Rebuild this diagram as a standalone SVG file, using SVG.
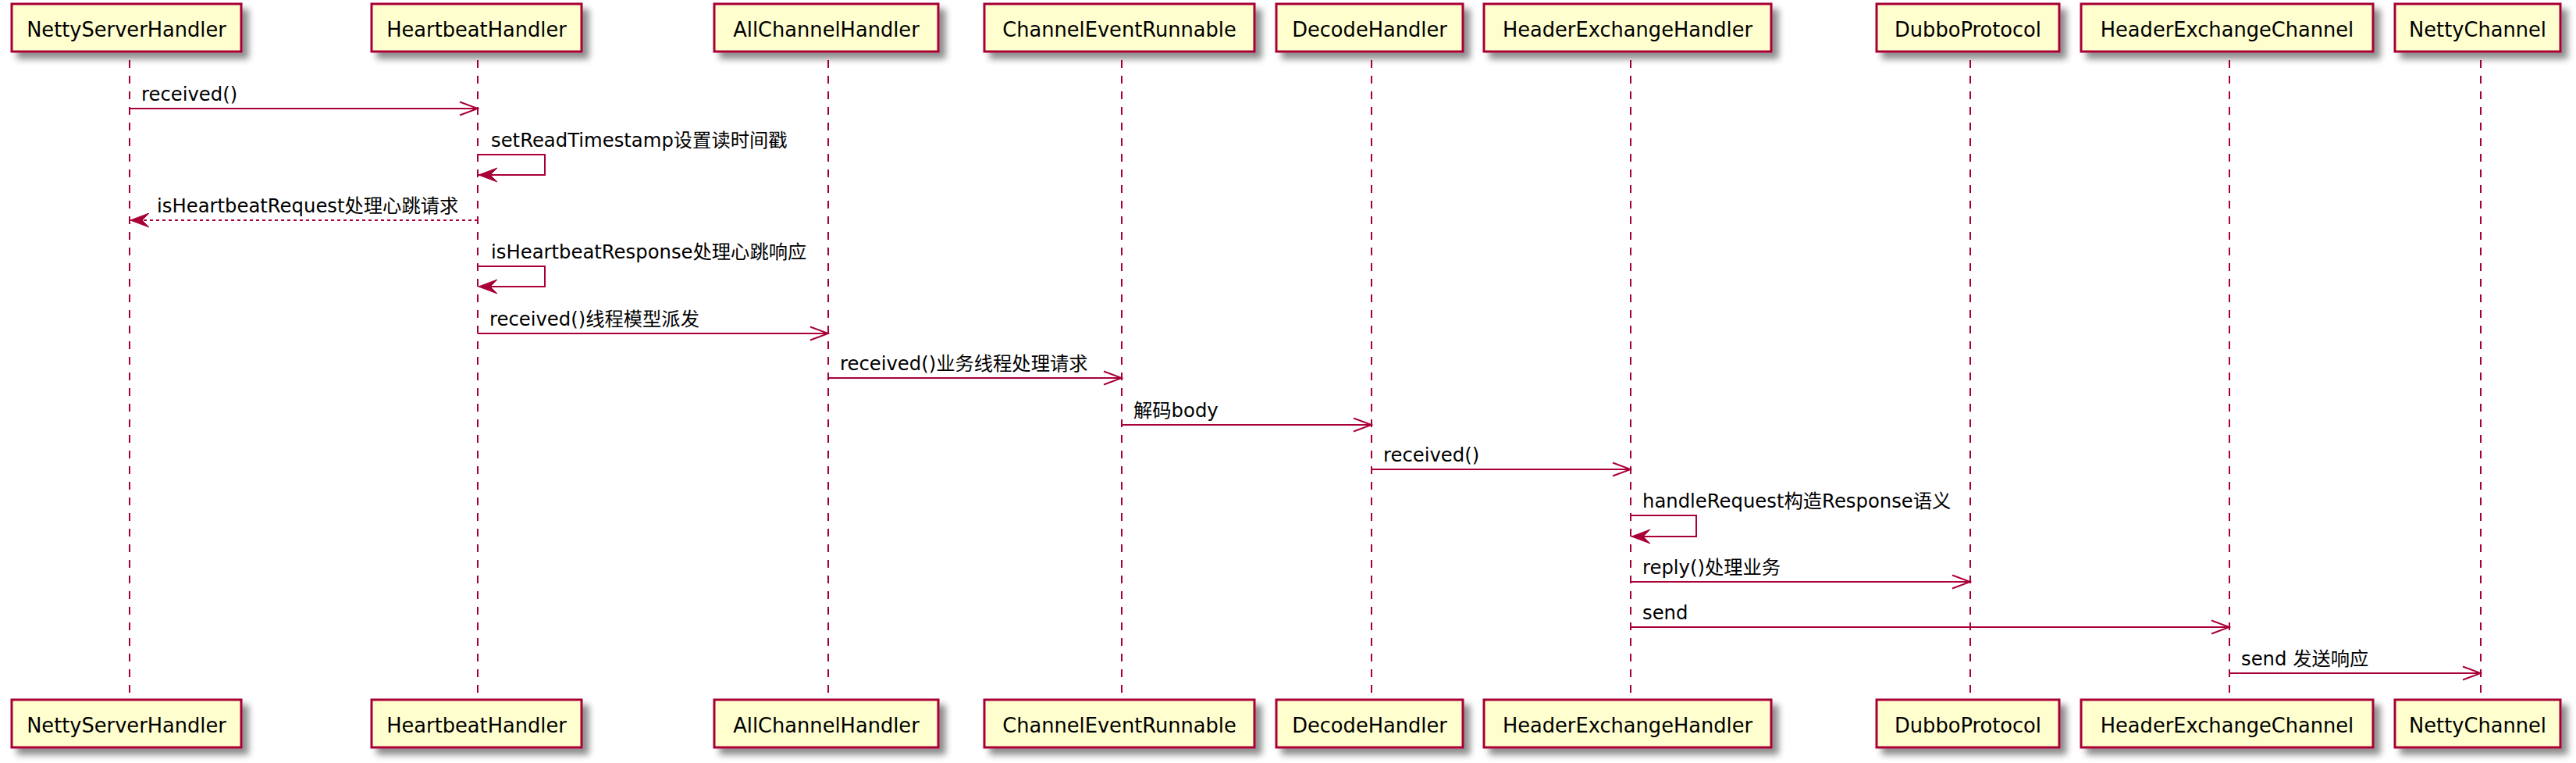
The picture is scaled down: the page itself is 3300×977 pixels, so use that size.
<svg xmlns="http://www.w3.org/2000/svg" width="3300" height="977" viewBox="0 0 3300 977">
<defs>
<filter id="sh" x="-10%" y="-20%" width="130%" height="160%">
<feGaussianBlur in="SourceAlpha" stdDeviation="4"/>
<feOffset dx="8" dy="8" result="b"/>
<feComponentTransfer><feFuncA type="linear" slope="0.45"/></feComponentTransfer>
<feMerge><feMergeNode/><feMergeNode in="SourceGraphic"/></feMerge>
</filter>
<marker id="open" viewBox="0 0 26 20" refX="24" refY="10" markerWidth="26" markerHeight="20" markerUnits="userSpaceOnUse" orient="auto">
<path d="M1,1.5 L24,10 L1,18.5" fill="none" stroke="#A80036" stroke-width="2"/>
</marker>
<marker id="fill" viewBox="0 0 26 20" refX="25" refY="10" markerWidth="26" markerHeight="20" markerUnits="userSpaceOnUse" orient="auto">
<path d="M1,1 L25,10 L1,19 L10,10 Z" fill="#A80036" stroke="#A80036" stroke-width="1"/>
</marker>
</defs>
<style>
.box{fill:#FEFECE;stroke:#A80036;stroke-width:3;filter:url(#sh)}
.pt{font-family:"DejaVu Sans","Noto Sans CJK SC",sans-serif;font-size:25.7px;fill:#000;text-anchor:middle}
.life{stroke:#A80036;stroke-width:2;stroke-dasharray:10,10;fill:none}
.msg{stroke:#A80036;stroke-width:2;fill:none}
.dot{stroke:#A80036;stroke-width:2;fill:none;stroke-dasharray:4,4}
.ml{font-family:"DejaVu Sans","Noto Sans CJK SC",sans-serif;font-size:24.3px;fill:#000}
</style>
<rect width="3300" height="977" fill="#fff"/>
<g id="lifelines">
<line class="life" x1="166" y1="77" x2="166" y2="890"/>
<line class="life" x1="612" y1="77" x2="612" y2="890"/>
<line class="life" x1="1061" y1="77" x2="1061" y2="890"/>
<line class="life" x1="1437" y1="77" x2="1437" y2="890"/>
<line class="life" x1="1757" y1="77" x2="1757" y2="890"/>
<line class="life" x1="2089" y1="77" x2="2089" y2="890"/>
<line class="life" x1="2524" y1="77" x2="2524" y2="890"/>
<line class="life" x1="2856" y1="77" x2="2856" y2="890"/>
<line class="life" x1="3178" y1="77" x2="3178" y2="890"/>
</g>
<g id="NettyServerHandler">
<rect class="box" x="15" y="5" width="294" height="61"/><text class="pt" x="162" y="47">NettyServerHandler</text>
<rect class="box" x="15" y="896" width="294" height="61"/><text class="pt" x="162" y="938">NettyServerHandler</text>
</g>
<g id="HeartbeatHandler">
<rect class="box" x="476" y="5" width="269" height="61"/><text class="pt" x="610.5" y="47">HeartbeatHandler</text>
<rect class="box" x="476" y="896" width="269" height="61"/><text class="pt" x="610.5" y="938">HeartbeatHandler</text>
</g>
<g id="AllChannelHandler">
<rect class="box" x="915" y="5" width="287" height="61"/><text class="pt" x="1058.5" y="47">AllChannelHandler</text>
<rect class="box" x="915" y="896" width="287" height="61"/><text class="pt" x="1058.5" y="938">AllChannelHandler</text>
</g>
<g id="ChannelEventRunnable">
<rect class="box" x="1261" y="5" width="346" height="61"/><text class="pt" x="1434" y="47">ChannelEventRunnable</text>
<rect class="box" x="1261" y="896" width="346" height="61"/><text class="pt" x="1434" y="938">ChannelEventRunnable</text>
</g>
<g id="DecodeHandler">
<rect class="box" x="1635" y="5" width="239" height="61"/><text class="pt" x="1754.5" y="47">DecodeHandler</text>
<rect class="box" x="1635" y="896" width="239" height="61"/><text class="pt" x="1754.5" y="938">DecodeHandler</text>
</g>
<g id="HeaderExchangeHandler">
<rect class="box" x="1901" y="5" width="368" height="61"/><text class="pt" x="2085" y="47">HeaderExchangeHandler</text>
<rect class="box" x="1901" y="896" width="368" height="61"/><text class="pt" x="2085" y="938">HeaderExchangeHandler</text>
</g>
<g id="DubboProtocol">
<rect class="box" x="2404" y="5" width="234" height="61"/><text class="pt" x="2521" y="47">DubboProtocol</text>
<rect class="box" x="2404" y="896" width="234" height="61"/><text class="pt" x="2521" y="938">DubboProtocol</text>
</g>
<g id="HeaderExchangeChannel">
<rect class="box" x="2666" y="5" width="374" height="61"/><text class="pt" x="2853" y="47">HeaderExchangeChannel</text>
<rect class="box" x="2666" y="896" width="374" height="61"/><text class="pt" x="2853" y="938">HeaderExchangeChannel</text>
</g>
<g id="NettyChannel">
<rect class="box" x="3068" y="5" width="212" height="61"/><text class="pt" x="3174" y="47">NettyChannel</text>
<rect class="box" x="3068" y="896" width="212" height="61"/><text class="pt" x="3174" y="938">NettyChannel</text>
</g>
<g id="connectors">
<line class="msg" x1="166" y1="139" x2="612" y2="139" marker-end="url(#open)"/>
<text class="ml" x="181" y="129">received()</text>
<polyline class="msg" points="612,198 698,198 698,224 613,224" marker-end="url(#fill)"/>
<text class="ml" x="629" y="188">setReadTimestamp设置读时间戳</text>
<line class="dot" x1="612" y1="282" x2="167" y2="282" marker-end="url(#fill)"/>
<text class="ml" x="201" y="272">isHeartbeatRequest处理心跳请求</text>
<polyline class="msg" points="612,341 698,341 698,367 613,367" marker-end="url(#fill)"/>
<text class="ml" x="629" y="331">isHeartbeatResponse处理心跳响应</text>
<line class="msg" x1="612" y1="427" x2="1061" y2="427" marker-end="url(#open)"/>
<text class="ml" x="627" y="417">received()线程模型派发</text>
<line class="msg" x1="1061" y1="484" x2="1437" y2="484" marker-end="url(#open)"/>
<text class="ml" x="1076" y="474">received()业务线程处理请求</text>
<line class="msg" x1="1437" y1="544" x2="1757" y2="544" marker-end="url(#open)"/>
<text class="ml" x="1452" y="534">解码body</text>
<line class="msg" x1="1757" y1="601" x2="2089" y2="601" marker-end="url(#open)"/>
<text class="ml" x="1772" y="591">received()</text>
<polyline class="msg" points="2089,660 2173,660 2173,687 2090,687" marker-end="url(#fill)"/>
<text class="ml" x="2104" y="650">handleRequest构造Response语义</text>
<line class="msg" x1="2089" y1="745" x2="2524" y2="745" marker-end="url(#open)"/>
<text class="ml" x="2104" y="735">reply()处理业务</text>
<line class="msg" x1="2089" y1="803" x2="2856" y2="803" marker-end="url(#open)"/>
<text class="ml" x="2104" y="793">send</text>
<line class="msg" x1="2856" y1="862" x2="3178" y2="862" marker-end="url(#open)"/>
<text class="ml" x="2871" y="852">send 发送响应</text>
</g>
</svg>
